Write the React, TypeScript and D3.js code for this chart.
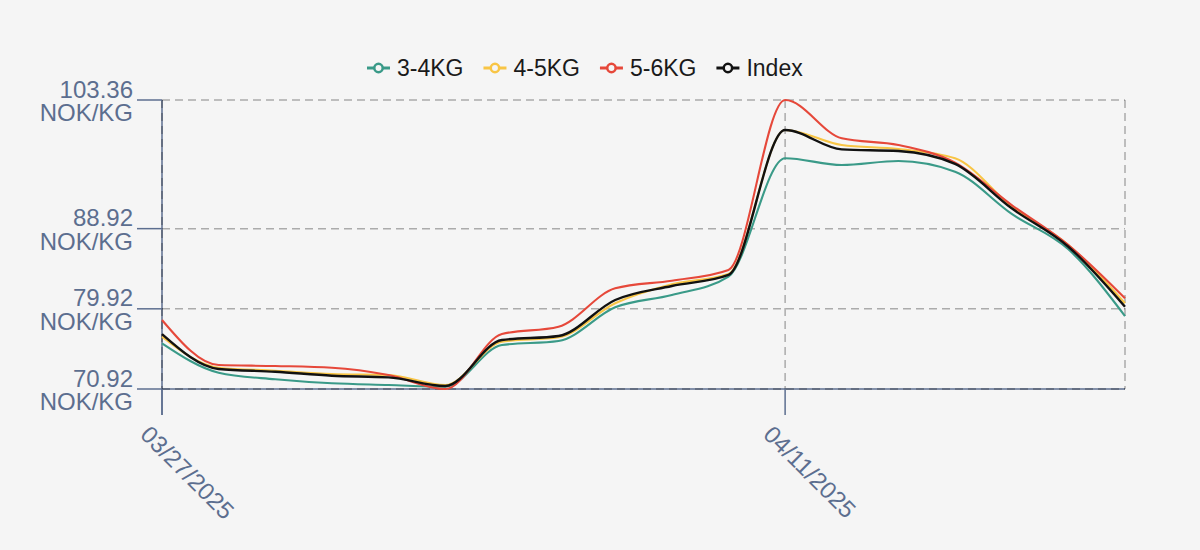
import React from "react";
import * as d3 from "d3";

const dates = [
  "03/27/2025", "03/28/2025", "03/31/2025", "04/01/2025", "04/02/2025", "04/03/2025",
  "04/04/2025", "04/07/2025", "04/08/2025", "04/09/2025", "04/10/2025", "04/11/2025",
  "04/14/2025", "04/15/2025", "04/16/2025", "04/17/2025", "04/18/2025", "04/21/2025",
];
const xTickLabels = ["03/27/2025", "04/11/2025"];
const yTicks = [70.92, 79.92, 88.92, 103.36];
const yUnit = "NOK/KG";

const series34 = [76.05, 72.75, 72.01, 71.56, 71.37, 71.18, 75.86, 76.31, 80.09, 81.47, 83.53, 96.82, 96.06, 96.51, 95.31, 90.57, 86.6, 79.11];
const series45 = [76.79, 73.31, 72.97, 72.6, 72.49, 71.37, 76.23, 76.72, 80.54, 82.67, 83.83, 100.0, 98.31, 97.86, 96.81, 91.38, 87.08, 80.54];
const series56 = [78.67, 73.61, 73.5, 73.31, 72.49, 70.92, 77.09, 77.91, 82.22, 83.08, 84.28, 103.36, 99.06, 98.31, 96.32, 91.57, 87.08, 81.1];
const seriesIndex = [77.09, 73.17, 72.86, 72.41, 72.23, 71.26, 76.42, 76.87, 80.91, 82.48, 83.72, 99.99, 97.82, 97.63, 96.18, 91.2, 86.89, 80.16];

const seriesNames = ["3-4KG", "4-5KG", "5-6KG", "Index"];
const seriesColors = ["#3a9a88", "#f8c545", "#e6483a", "#111111"];
const seriesData = [series34, series45, series56, seriesIndex];

const W = 1200;
const H = 550;
const left = 162;
const right = 1125;
const top = 100;
const bottom = 389;
const FONT = '"Liberation Sans", Arial, Helvetica, sans-serif';
const AXIS = "#5c6e8f";
const BG = "#f5f5f5";

function textWidth(t: string, size: number) {
  if (typeof document === "undefined") return t.length * size * 0.55;
  const c = document.createElement("canvas").getContext("2d");
  if (!c) return t.length * size * 0.55;
  c.font = `${size}px ${FONT}`;
  return c.measureText(t).width;
}

export default function App() {
  const x = d3.scalePoint<string>().domain(dates).range([left, right]);
  const y = d3.scaleLinear().domain([d3.min(yTicks)!, d3.max(yTicks)!]).range([bottom, top]);
  const line = d3
    .line<number>()
    .x((_, i) => x(dates[i])!)
    .y((d) => y(d))
    .curve(d3.curveMonotoneX);

  // legend layout
  const legendFont = 23;
  const symW = 23;
  const symGap = 7;
  const itemGap = 20;
  let lx = 367;
  const legendItems = seriesNames.map((name, i) => {
    const item = { name, color: seriesColors[i], x: lx };
    lx += symW + symGap + textWidth(name, legendFont) + itemGap;
    return item;
  });
  const legendY = 68;
  const axisFont = 24;

  const gridDash = "8 5";
  const gridColor = "rgba(0,0,0,0.3)";

  return (
    <svg
      width={W}
      height={H}
      style={{ position: "absolute", left: 0, top: 0, background: BG, fontFamily: FONT }}
    >
      <rect x={0} y={0} width={W} height={H} fill={BG} />

      {/* axis lines (under the dashed grid) */}
      <line x1={left} x2={left} y1={top} y2={415} stroke={AXIS} strokeWidth={1.5} />
      <line x1={left} x2={right} y1={bottom} y2={bottom} stroke={AXIS} strokeWidth={1.5} />

      {/* horizontal grid */}
      {yTicks.map((t) => (
        <line
          key={"gy" + t}
          x1={left}
          x2={right}
          y1={y(t)}
          y2={y(t)}
          stroke={gridColor}
          strokeWidth={1.5}
          strokeDasharray={gridDash}
        />
      ))}
      {/* vertical grid */}
      {xTickLabels.map((d) => (
        <line
          key={"gx" + d}
          x1={x(d)!}
          x2={x(d)!}
          y1={top}
          y2={bottom}
          stroke={gridColor}
          strokeWidth={1.5}
          strokeDasharray={gridDash}
        />
      ))}
      <line
        x1={right}
        x2={right}
        y1={top}
        y2={bottom}
        stroke={gridColor}
        strokeWidth={1.5}
        strokeDasharray={gridDash}
      />

      {/* y ticks and labels */}
      {yTicks.map((t) => (
        <g key={"yt" + t}>
          <line x1={137} x2={left} y1={y(t)} y2={y(t)} stroke={AXIS} strokeWidth={1.5} />
          <text x={133} y={y(t) - 2.5} textAnchor="end" fontSize={axisFont} fill={AXIS}>
            {t.toFixed(2)}
          </text>
          <text x={133} y={y(t) + 21} textAnchor="end" fontSize={axisFont} fill={AXIS}>
            {yUnit}
          </text>
        </g>
      ))}

      {/* x ticks and labels */}
      {xTickLabels.map((d) => {
        const px = x(d)!;
        return (
          <g key={"xt" + d}>
            <line x1={px} x2={px} y1={bottom} y2={415} stroke={AXIS} strokeWidth={1.5} />
            <text
              transform={`translate(${px - 23},${436}) rotate(45)`}
              fontSize={axisFont}
              fill={AXIS}
            >
              {d}
            </text>
          </g>
        );
      })}

      {/* series */}
      {seriesData.map((s, i) => (
        <path
          key={"s" + i}
          d={line(s) || ""}
          fill="none"
          stroke={seriesColors[i]}
          strokeWidth={i === 3 ? 2.4 : 2.1}
          strokeLinejoin="round"
        />
      ))}

      {/* legend */}
      {legendItems.map((it) => (
        <g key={"lg" + it.name}>
          <line
            x1={it.x}
            x2={it.x + symW}
            y1={legendY}
            y2={legendY}
            stroke={it.color}
            strokeWidth={3}
          />
          <circle cx={it.x + symW / 2} cy={legendY} r={4.2} fill={BG} stroke={it.color} strokeWidth={2.5} />
          <text
            x={it.x + symW + symGap}
            y={legendY}
            dominantBaseline="central"
            fontSize={legendFont}
            fill="#1a1a1a"
          >
            {it.name}
          </text>
        </g>
      ))}
    </svg>
  );
}
